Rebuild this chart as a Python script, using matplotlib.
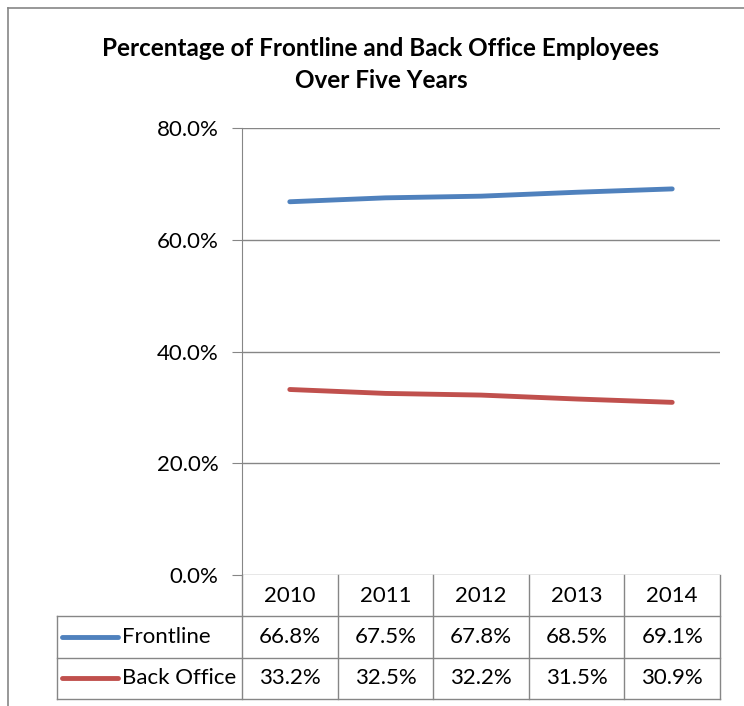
import matplotlib.pyplot as plt
from matplotlib.lines import Line2D
from matplotlib.ticker import FuncFormatter

plt.rcParams['font.family'] = ['Lato', 'DejaVu Sans']

years = ['2010', '2011', '2012', '2013', '2014']
frontline = [66.8, 67.5, 67.8, 68.5, 69.1]
back_office = [33.2, 32.5, 32.2, 31.5, 30.9]
series_names = ['Frontline', 'Back Office']
series_colors = ['#4F81BD', '#C0504D']
grid_color = '#868686'

W, H = 744, 706
fig = plt.figure(figsize=(W / 100, H / 100), dpi=100)

def fx(px):
    return px / W

def fy(py):
    return 1 - py / H

# outer chart border (cropped at right and bottom)
fig.add_artist(Line2D([fx(8), fx(8)], [fy(8), fy(720)], color=grid_color, lw=1.2))
fig.add_artist(Line2D([fx(8), fx(760)], [fy(8), fy(8)], color=grid_color, lw=1.2))

fig.text(fx(381), fy(48), 'Percentage of Frontline and Back Office Employees',
         ha='center', va='center', fontsize=17.5, fontweight='bold')
fig.text(fx(381), fy(80), 'Over Five Years',
         ha='center', va='center', fontsize=17.5, fontweight='bold')

ax_left, ax_right, ax_top, ax_bot = 242, 720, 128, 575
ax = fig.add_axes([fx(ax_left), fy(ax_bot), fx(ax_right - ax_left), (ax_bot - ax_top) / H])
x = list(range(len(years)))
ax.plot(x, frontline, color=series_colors[0], lw=3.5, solid_capstyle='round')
ax.plot(x, back_office, color=series_colors[1], lw=3.5, solid_capstyle='round')
ax.set_xlim(-0.5, len(years) - 0.5)
ax.set_ylim(0, 80)
ax.set_yticks([0, 20, 40, 60, 80])
ax.yaxis.set_major_formatter(FuncFormatter(lambda v, p: f'{v:.1f}%'))
ax.set_xticks([])
ax.grid(axis='y', color=grid_color, lw=1)
for s in ['top', 'right', 'bottom']:
    ax.spines[s].set_visible(False)
ax.spines['left'].set_color(grid_color)
ax.tick_params(axis='y', length=7, color=grid_color, labelsize=16, pad=10)

# data table below the plot
col_w = (ax_right - ax_left) / len(years)
legend_left = 57
tbl_top, tbl_bot = 575, 699
tax = fig.add_axes([fx(legend_left), fy(tbl_bot), fx(ax_right - legend_left), (tbl_bot - tbl_top) / H])
x0 = -0.5 - (ax_left - legend_left) / col_w
tax.set_xlim(x0, len(years) - 0.5)
tax.set_ylim(3, 0)
tax.axis('off')

lk = dict(color=grid_color, lw=1, clip_on=False)
# header row verticals
for i in range(len(years) + 1):
    tax.plot([i - 0.5, i - 0.5], [0, 3], **lk)
tax.plot([x0, x0], [1, 3], **lk)
for r in [1, 2, 3]:
    tax.plot([x0, len(years) - 0.5], [r, r], **lk)

for i, yr in enumerate(years):
    tax.text(i, 0.5, yr, ha='center', va='center', fontsize=16)

rows = [frontline, back_office]
for r, (name, vals, c) in enumerate(zip(series_names, rows, series_colors)):
    yc = r + 1.5
    tax.plot([x0 + 0.05, x0 + 0.64], [yc, yc], color=c, lw=3.5, solid_capstyle='round')
    tax.text(x0 + 0.68, yc, name, ha='left', va='center', fontsize=16)
    for i, v in enumerate(vals):
        tax.text(i, yc, f'{v:.1f}%', ha='center', va='center', fontsize=16)

fig.savefig('out.png', dpi=100)
